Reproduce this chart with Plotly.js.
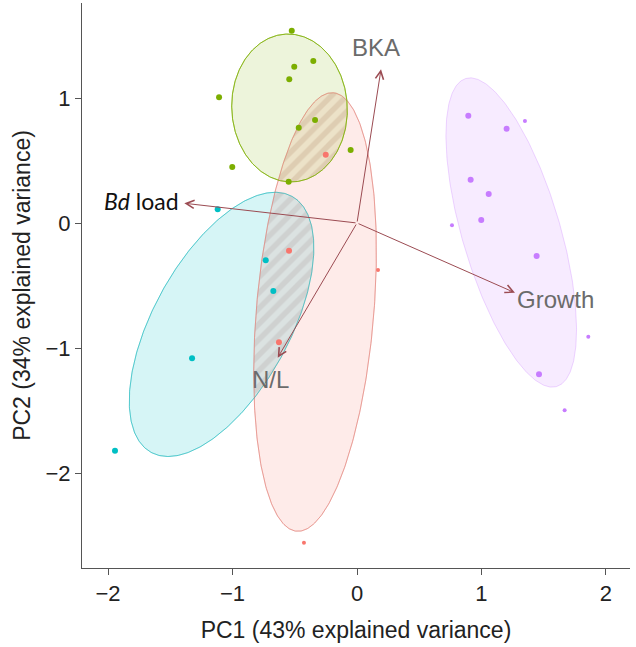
<!DOCTYPE html>
<html><head><meta charset="utf-8">
<script src="https://cdn.plot.ly/plotly-3.0.1.min.js"></script>
<style>html,body{margin:0;padding:0;background:#fff}#chart{width:636px;height:647px}</style>
</head><body><div id="chart"></div>
<script>
// ---- data: sample scores (PC1, PC2) per group ----
const groupNames = ['green', 'red', 'cyan', 'purple'];
const greenX = [-0.524, -0.351, -0.504, -0.544, -1.108, -0.337, -0.468, -0.051, -1.002, -0.549];
const greenY = [1.538, 1.296, 1.250, 1.150, 1.006, 0.824, 0.762, 0.584, 0.448, 0.330];
const redX = [-0.251, -0.546, -0.627];
const redY = [0.546, -0.222, -0.954];
const redX2 = [0.169, -0.426];
const redY2 = [-0.376, -2.558];
const cyanX = [-1.119, -0.733, -0.672, -1.325, -1.944];
const cyanY = [0.110, -0.298, -0.544, -1.082, -1.822];
const purpleX = [0.894, 1.202, 0.913, 1.058, 0.998, 1.443, 1.462];
const purpleY = [0.858, 0.754, 0.346, 0.232, 0.024, -0.264, -1.210];
const purpleX2 = [1.349, 0.763, 1.858, 1.668];
const purpleY2 = [0.816, -0.018, -0.910, -1.498];

// ---- ellipse parameters per group (centre, semi-axes, angle in degrees) ----
const ellCx = [-0.542, -0.337, -1.088, 1.239];
const ellCy = [0.920, -0.712, -0.811, -0.076];
const ellA = [0.592, 1.760, 1.170, 1.285];
const ellB = [0.464, 0.472, 0.546, 0.393];
const ellAng = [93, 85.2, 61, 106.5];

// ---- loading vectors ----
const loadNames = ['BKA', 'Bd load', 'Growth', 'N/L'];
const loadX = [0.193, -1.387, 1.269, -0.637];
const loadY = [1.230, 0.158, -0.558, -1.078];

// ---- tick values ----
const xTicks = [-2, -1, 0, 1, 2];
const yTicks = [-2, -1, 0, 1];

const colors = {green: '#7CAE00', red: '#F8766D', cyan: '#00BFC4', purple: '#C77CFF'};
const fills = {green: 'rgba(124,174,0,0.14)', red: 'rgba(248,118,109,0.15)', cyan: 'rgba(0,191,196,0.16)', purple: 'rgba(199,124,255,0.15)'};
const outlines = {green: 'rgba(124,174,0,0.65)', red: 'rgba(225,120,110,0.45)', cyan: 'rgba(0,175,180,0.4)', purple: 'rgba(199,124,255,0.3)'};

function ellipse(i, n) {
  const t = ellAng[i] * Math.PI / 180, xs = [], ys = [];
  for (let k = 0; k <= n; k++) {
    const u = 2 * Math.PI * k / n;
    const px = ellA[i] * Math.cos(u), py = ellB[i] * Math.sin(u);
    xs.push(ellCx[i] + px * Math.cos(t) - py * Math.sin(t));
    ys.push(ellCy[i] + px * Math.sin(t) + py * Math.cos(t));
  }
  return {x: xs, y: ys};
}
function inside(i, x, y) {
  const t = ellAng[i] * Math.PI / 180;
  const dx = x - ellCx[i], dy = y - ellCy[i];
  const u = dx * Math.cos(t) + dy * Math.sin(t);
  const v = -dx * Math.sin(t) + dy * Math.cos(t);
  return (u * u) / (ellA[i] * ellA[i]) + (v * v) / (ellB[i] * ellB[i]) <= 1;
}
function intersection(i, j) {
  const pts = [];
  const e1 = ellipse(i, 720), e2 = ellipse(j, 720);
  for (let k = 0; k < e1.x.length - 1; k++) if (inside(j, e1.x[k], e1.y[k])) pts.push([e1.x[k], e1.y[k]]);
  for (let k = 0; k < e2.x.length - 1; k++) if (inside(i, e2.x[k], e2.y[k])) pts.push([e2.x[k], e2.y[k]]);
  let cx = 0, cy = 0;
  pts.forEach(p => { cx += p[0]; cy += p[1]; });
  cx /= pts.length; cy /= pts.length;
  pts.sort((a, b) => Math.atan2(a[1] - cy, a[0] - cx) - Math.atan2(b[1] - cy, b[0] - cx));
  pts.push(pts[0]);
  return {x: pts.map(p => p[0]), y: pts.map(p => p[1])};
}

const traces = [];
// ellipses
[3, 2, 1, 0].forEach(i => {
  const g = groupNames[i], e = ellipse(i, 360);
  traces.push({type: 'scatter', mode: 'lines', x: e.x, y: e.y, fill: 'toself',
    fillcolor: fills[g], line: {color: outlines[g], width: 1}, hoverinfo: 'skip'});
});
// hatched overlaps
const ov1 = intersection(0, 1);
traces.push({type: 'scatter', mode: 'lines', x: ov1.x, y: ov1.y, fill: 'toself', line: {width: 0},
  fillcolor: 'rgba(0,0,0,0)',
  fillpattern: {shape: '/', size: 11, solidity: 0.5, fgcolor: 'rgba(200,170,140,0.38)', bgcolor: 'rgba(0,0,0,0)'}, hoverinfo: 'skip'});
const ov2 = intersection(2, 1);
traces.push({type: 'scatter', mode: 'lines', x: ov2.x, y: ov2.y, fill: 'toself', line: {width: 0},
  fillcolor: 'rgba(0,0,0,0)',
  fillpattern: {shape: '/', size: 11, solidity: 0.5, fgcolor: 'rgba(185,180,180,0.38)', bgcolor: 'rgba(0,0,0,0)'}, hoverinfo: 'skip'});
// outlines again on top
[1, 0, 2].forEach(i => {
  const g = groupNames[i], e = ellipse(i, 360);
  traces.push({type: 'scatter', mode: 'lines', x: e.x, y: e.y, line: {color: outlines[g], width: 1}, hoverinfo: 'skip'});
});
// points
function pts(x, y, c, s) {
  traces.push({type: 'scatter', mode: 'markers', x: x, y: y, marker: {color: c, size: s, line: {width: 0}}, cliponaxis: false});
}
pts(greenX, greenY, colors.green, 6);
pts(redX, redY, colors.red, 6);
pts(redX2, redY2, colors.red, 4);
pts(cyanX, cyanY, colors.cyan, 6);
pts(purpleX, purpleY, colors.purple, 6);
pts(purpleX2, purpleY2, colors.purple, 4);

const arrowColor = '#9b4b52';
const annotations = loadX.map((x, i) => ({
  x: x, y: loadY[i], ax: 0, ay: 0, axref: 'x', ayref: 'y', xref: 'x', yref: 'y',
  text: '', showarrow: true, arrowhead: 5, arrowsize: 1.6, arrowwidth: 1, arrowcolor: arrowColor, standoff: 0
}));
const labFont = {family: 'Liberation Sans, Arial, sans-serif', size: 24, color: '#6b6b6b'};
annotations.push({x: loadX[0] - 0.04, y: loadY[0] + 0.05, xref: 'x', yref: 'y', text: loadNames[0], showarrow: false, font: labFont, xanchor: 'center', yanchor: 'bottom'});
annotations.push({x: loadX[1] - 0.03, y: loadY[1] + 0.02, xref: 'x', yref: 'y', text: '<i>Bd</i> load', showarrow: false,
  font: {family: 'Lato, Open Sans, sans-serif', size: 23, color: '#111'}, xanchor: 'right', yanchor: 'middle'});
annotations.push({x: loadX[2] + 0.0, y: loadY[2] - 0.05, xref: 'x', yref: 'y', text: loadNames[2], showarrow: false, font: labFont, xanchor: 'left', yanchor: 'middle'});
annotations.push({x: loadX[3] - 0.06, y: loadY[3] - 0.05, xref: 'x', yref: 'y', text: loadNames[3], showarrow: false, font: labFont, xanchor: 'center', yanchor: 'top'});

const axFont = {family: 'Liberation Sans, Arial, sans-serif', size: 22, color: '#222'};
const titleFont = {family: 'Liberation Sans, Arial, sans-serif', size: 23, color: '#222'};
const layout = {
  width: 636, height: 647,
  margin: {l: 82, r: 6, t: 3, b: 79},
  paper_bgcolor: '#fff', plot_bgcolor: '#fff',
  showlegend: false,
  xaxis: {range: [-2.209, 2.193], tickvals: xTicks, showline: true, linecolor: '#555', linewidth: 1,
    ticks: 'outside', ticklen: 6, tickcolor: '#555', showgrid: false, zeroline: false, tickfont: axFont,
    title: {text: 'PC1 (43% explained variance)', font: titleFont, standoff: 16}},
  yaxis: {range: [-2.76, 1.76], tickvals: yTicks, showline: true, linecolor: '#555', linewidth: 1,
    ticks: 'outside', ticklen: 6, tickcolor: '#555', showgrid: false, zeroline: false, tickfont: axFont,
    title: {text: 'PC2 (34% explained variance)', font: titleFont, standoff: 8}},
  annotations: annotations
};
Plotly.newPlot('chart', traces, layout, {displayModeBar: false, staticPlot: true});
</script></body></html>
